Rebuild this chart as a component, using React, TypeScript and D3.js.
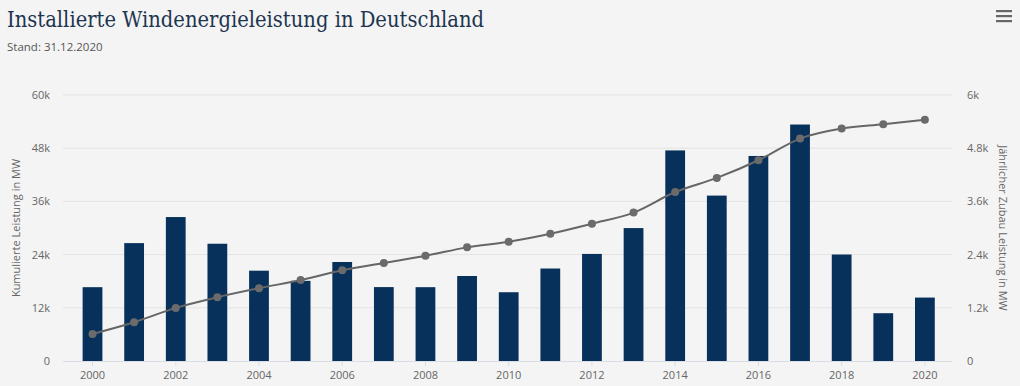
import React from "react";
import * as d3 from "d3";

const years = ["2000","2001","2002","2003","2004","2005","2006","2007","2008","2009","2010","2011","2012","2013","2014","2015","2016","2017","2018","2019","2020"];
const annualAdditions = [1665,2659,3247,2645,2037,1808,2233,1667,1665,1917,1551,2086,2415,2998,4750,3731,4625,5334,2402,1078,1431];
const cumulative = [6097,8738,11976,14381,16419,18248,20474,22116,23738,25632,26903,28712,30979,33477,38116,41297,45283,50174,52447,53405,54414];
const leftTicks = [0,12000,24000,36000,48000,60000];
const leftTickLabels = ["0","12k","24k","36k","48k","60k"];
const rightTicks = [0,1200,2400,3600,4800,6000];
const rightTickLabels = ["0","1.2k","2.4k","3.6k","4.8k","6k"];
const xLabelYears = ["2000","2002","2004","2006","2008","2010","2012","2014","2016","2018","2020"];

const W = 1020, H = 386;
const plotLeft = 63, plotRight = 952;
const top = 95, bottom = 361;

export default function App() {
  const x = d3.scaleBand<string>().domain(years).range([71.7, 945.7]).padding(0);
  const yL = d3.scaleLinear().domain([0, 60000]).range([bottom, top]);
  const yR = d3.scaleLinear().domain([0, 6000]).range([bottom, top]);
  const bw = x.bandwidth() * 0.475;
  const cx = (y: string) => (x(y) as number) + x.bandwidth() / 2;
  const line = d3.line<number>()
    .x((_, i) => cx(years[i]))
    .y((d) => yL(d))
    .curve(d3.curveMonotoneX);
  const font = "'Open Sans', 'DejaVu Sans', sans-serif";
  return (
    <svg width={W} height={H} style={{ position: "absolute", left: 0, top: 0 }} fontFamily={font}>
      <rect x={0} y={0} width={W} height={H} fill="#f4f4f4" />
      <text x={7} y={27} fontFamily="'DejaVu Serif', serif" fontSize={22} fill="#1e3550" textLength={477} lengthAdjust="spacingAndGlyphs">Installierte Windenergieleistung in Deutschland</text>
      <text x={7} y={51} fontSize={11.5} fill="#555">Stand: 31.12.2020</text>
      <g fill="#666">
        <rect x={996} y={10} width={16} height={2.2} />
        <rect x={996} y={15} width={16} height={2.2} />
        <rect x={996} y={20} width={16} height={2.2} />
      </g>
      {leftTicks.map((t, i) => (
        <g key={"g" + i}>
          {i > 0 && <line x1={plotLeft} x2={plotRight} y1={yL(t)} y2={yL(t)} stroke="#e3e3e3" strokeWidth={1} />}
          <text x={50} y={yL(t) + 4} textAnchor="end" fontSize={11} fill="#666">{leftTickLabels[i]}</text>
        </g>
      ))}
      {rightTicks.map((t, i) => (
        <text key={"r" + i} x={967} y={yR(t) + 4} textAnchor="start" fontSize={11} fill="#666">{rightTickLabels[i]}</text>
      ))}
      <text transform={`translate(20,228) rotate(-90)`} textAnchor="middle" fontSize={11} fill="#666">Kumulierte Leistung in MW</text>
      <text transform={`translate(999,228) rotate(90)`} textAnchor="middle" fontSize={11} fill="#666">Jährlicher Zubau Leistung in MW</text>
      {years.map((y, i) => (
        <rect key={"b" + y} x={cx(y) - bw / 2} y={yR(annualAdditions[i])} width={bw} height={bottom - yR(annualAdditions[i])} fill="#07305a" />
      ))}
      <line x1={plotLeft} x2={plotRight} y1={bottom + 0.5} y2={bottom + 0.5} stroke="#d8dde6" strokeWidth={1} />
      {xLabelYears.map((y) => (
        <g key={"x" + y}>
          <line x1={cx(y)} x2={cx(y)} y1={bottom} y2={bottom + 5} stroke="#d8dde6" />
          <text x={cx(y)} y={379} textAnchor="middle" fontSize={11} fill="#666">{y}</text>
        </g>
      ))}
      <path d={line(cumulative) || ""} fill="none" stroke="#666" strokeWidth={2} />
      {years.map((y, i) => (
        <circle key={"c" + y} cx={cx(y)} cy={yL(cumulative[i])} r={4} fill="#6b6b6b" />
      ))}
    </svg>
  );
}
